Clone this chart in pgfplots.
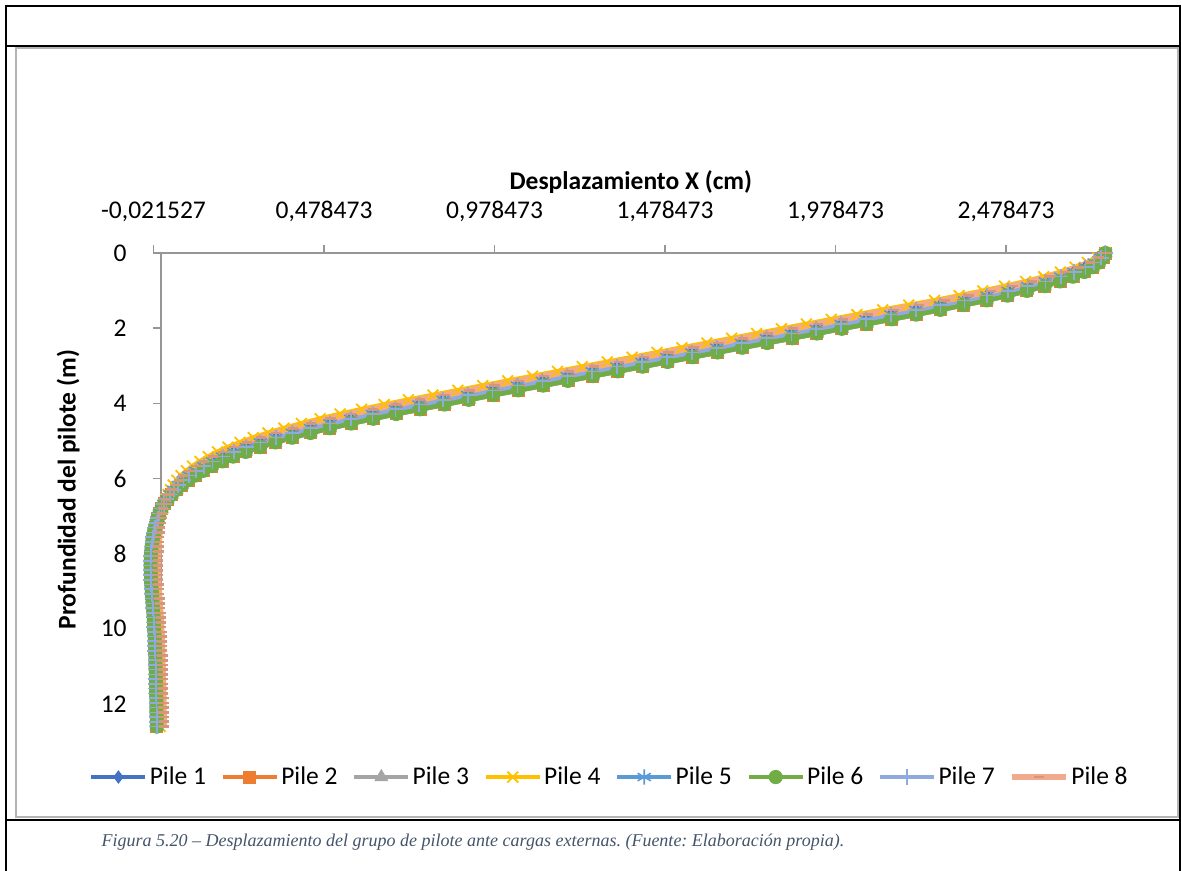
\documentclass[border=0pt]{standalone}
\usepackage{pgfplots}
\pgfplotsset{compat=1.18}
\usepackage{pgfplotstable}
\usepackage{fontspec}
\setmainfont{Carlito}
\newfontfamily\capfont{Liberation Serif}

\definecolor{pileA}{HTML}{4472C4}
\definecolor{pileB}{HTML}{ED7D31}
\definecolor{pileC}{HTML}{A5A5A5}
\definecolor{pileD}{HTML}{FFC000}
\definecolor{pileE}{HTML}{5B9BD5}
\definecolor{pileF}{HTML}{70AD47}
\definecolor{pileG}{HTML}{8FAADC}
\definecolor{pileH}{HTML}{F2AA8C}
\definecolor{axisgray}{HTML}{969696}
\definecolor{framegray}{HTML}{B4B4B4}
\definecolor{capcolor}{HTML}{44546A}

% depth y (m); lateral displacement (cm) of the pile groups
% b: piles 1, 5, 7, u8: pile 8, u4: pile 4, l: piles 2, 3, 6
\pgfplotstableread{
y b u8 u4 l
0.000 2.770 2.770 2.770 2.770
0.126 2.757 2.751 2.748 2.764
0.252 2.737 2.724 2.717 2.751
0.378 2.711 2.691 2.681 2.733
0.504 2.678 2.651 2.638 2.708
0.630 2.639 2.606 2.589 2.675
0.756 2.594 2.555 2.536 2.637
0.882 2.542 2.497 2.474 2.592
1.008 2.485 2.435 2.410 2.540
1.134 2.423 2.368 2.341 2.483
1.260 2.357 2.298 2.269 2.422
1.386 2.286 2.224 2.193 2.354
1.512 2.214 2.149 2.117 2.286
1.638 2.141 2.074 2.041 2.215
1.764 2.068 2.000 1.966 2.143
1.890 1.995 1.927 1.893 2.070
2.016 1.922 1.854 1.820 1.997
2.142 1.849 1.781 1.747 1.924
2.268 1.776 1.708 1.674 1.851
2.394 1.703 1.635 1.601 1.778
2.520 1.630 1.562 1.528 1.705
2.646 1.557 1.489 1.455 1.632
2.772 1.484 1.416 1.382 1.559
2.898 1.411 1.343 1.309 1.486
3.024 1.338 1.270 1.236 1.413
3.150 1.265 1.197 1.163 1.340
3.276 1.192 1.124 1.090 1.267
3.402 1.119 1.051 1.017 1.194
3.528 1.046 0.978 0.944 1.121
3.654 0.973 0.905 0.871 1.048
3.780 0.900 0.832 0.798 0.975
3.906 0.828 0.760 0.726 0.903
4.032 0.757 0.689 0.655 0.832
4.158 0.688 0.622 0.589 0.761
4.284 0.621 0.558 0.526 0.690
4.410 0.557 0.497 0.467 0.623
4.536 0.496 0.440 0.412 0.558
4.662 0.439 0.387 0.361 0.496
4.788 0.386 0.338 0.314 0.439
4.914 0.337 0.293 0.271 0.385
5.040 0.292 0.252 0.232 0.336
5.166 0.251 0.215 0.197 0.291
5.292 0.214 0.182 0.166 0.249
5.418 0.181 0.153 0.139 0.212
5.544 0.152 0.127 0.115 0.180
5.670 0.126 0.104 0.093 0.150
5.796 0.103 0.084 0.075 0.124
5.922 0.083 0.067 0.059 0.101
6.048 0.066 0.053 0.047 0.080
6.174 0.051 0.041 0.036 0.062
6.300 0.038 0.031 0.028 0.046
6.426 0.027 0.023 0.021 0.032
6.552 0.017 0.016 0.015 0.020
6.678 0.009 0.011 0.010 0.010
6.804 0.002 0.007 0.005 0.002
6.930 -0.004 0.004 0.000 -0.004
7.056 -0.009 0.002 -0.003 -0.009
7.182 -0.013 0.000 -0.006 -0.013
7.308 -0.017 -0.002 -0.009 -0.017
7.434 -0.020 -0.003 -0.011 -0.020
7.560 -0.023 -0.005 -0.013 -0.023
7.686 -0.025 -0.006 -0.015 -0.025
7.812 -0.027 -0.007 -0.017 -0.027
7.938 -0.028 -0.007 -0.018 -0.028
8.064 -0.029 -0.008 -0.019 -0.029
8.190 -0.030 -0.009 -0.020 -0.030
8.316 -0.030 -0.009 -0.020 -0.030
8.442 -0.030 -0.009 -0.020 -0.030
8.568 -0.029 -0.008 -0.019 -0.029
8.694 -0.029 -0.008 -0.019 -0.029
8.820 -0.028 -0.007 -0.018 -0.028
8.946 -0.027 -0.006 -0.017 -0.027
9.072 -0.026 -0.005 -0.016 -0.026
9.198 -0.025 -0.004 -0.015 -0.025
9.324 -0.024 -0.003 -0.014 -0.024
9.450 -0.023 -0.002 -0.013 -0.023
9.576 -0.022 -0.001 -0.012 -0.022
9.702 -0.021 0.000 -0.011 -0.021
9.828 -0.020 0.001 -0.010 -0.020
9.954 -0.020 0.001 -0.010 -0.020
10.080 -0.019 0.002 -0.009 -0.019
10.206 -0.018 0.003 -0.008 -0.018
10.332 -0.018 0.003 -0.008 -0.018
10.458 -0.017 0.004 -0.007 -0.017
10.584 -0.017 0.004 -0.007 -0.017
10.710 -0.016 0.005 -0.006 -0.016
10.836 -0.016 0.005 -0.006 -0.016
10.962 -0.016 0.005 -0.006 -0.016
11.088 -0.015 0.006 -0.005 -0.015
11.214 -0.015 0.006 -0.005 -0.015
11.340 -0.015 0.006 -0.005 -0.015
11.466 -0.014 0.007 -0.004 -0.014
11.592 -0.014 0.007 -0.004 -0.014
11.718 -0.014 0.007 -0.004 -0.014
11.844 -0.013 0.008 -0.003 -0.013
11.970 -0.013 0.008 -0.003 -0.013
12.096 -0.013 0.008 -0.003 -0.013
12.222 -0.013 0.008 -0.003 -0.013
12.348 -0.012 0.009 -0.002 -0.012
12.474 -0.012 0.009 -0.002 -0.012
12.600 -0.012 0.009 -0.002 -0.012
}\piles

\newcommand{\chartfont}{\fontsize{12.75}{15}\selectfont}
\newcommand{\entry}[1]{\hspace*{1pt}#1\hspace*{7.2pt}\mbox{}}

\begin{document}
\frenchspacing
\begin{tikzpicture}
\path[use as bounding box] (0pt,0pt) rectangle (590.5pt,-435.5pt);

% table cell borders and chart area
\draw[framegray, line width=0.7pt] (8pt,-24pt) rectangle (589pt,-408.5pt);
\draw[black, line width=1.25pt] (2.5pt,-3pt) -- (590.5pt,-3pt);
\draw[black, line width=1.25pt] (2.5pt,-23pt) -- (590.5pt,-23pt);
\draw[black, line width=1.25pt] (2.5pt,-410pt) -- (590.5pt,-410pt);
\draw[black, line width=1.25pt] (3pt,-2.5pt) -- (3pt,-435.5pt);
\draw[black, line width=1.25pt] (590pt,-2.5pt) -- (590pt,-435.5pt);

\begin{axis}[
  at={(76.75pt,-126.5pt)}, anchor=north west,
  scale only axis, width=477.4pt, height=236.75pt,
  xmin=-0.021527, xmax=2.778473, ymin=0, ymax=12.6,
  y dir=reverse,
  clip=false,
  axis line style={draw=none},
  xtick={-0.021527,0.478473,0.978473,1.478473,1.978473,2.478473},
  xticklabels={{-0,021527},{0,478473},{0,978473},{1,478473},{1,978473},{2,478473}},
  ytick={0,2,4,6,8,10,12},
  yticklabels={0,2,4,6,8,10,12},
  xtick pos=right, xticklabel pos=right, ytick pos=left,
  tick align=outside,
  major tick length=4pt,
  tick style={axisgray, line width=0.7pt},
  y tick style={xshift=3.65pt},
  tick label style={font=\chartfont, text=black},
  xticklabel style={anchor=base, inner sep=0pt, yshift=13.2pt},
  yticklabel style={anchor=east, inner sep=0pt, xshift=-9.25pt},
  label style={font=\bfseries\chartfont},
  xlabel={Desplazamiento X (cm)},
  ylabel={Profundidad del pilote (m)},
  xlabel style={at={(axis description cs:0.5,1.15)}, anchor=center},
  ylabel style={at={(axis description cs:-0.0895,0.5)}, anchor=center},
  legend columns=8,
  legend style={at={(axis description cs:0.4839,-0.1067)}, anchor=center,
    draw=none, fill=none, font=\chartfont,
    nodes={inner sep=0pt}, /tikz/column sep=0pt},
  legend cell align=left,
  legend image code/.code={
    \draw[mark repeat=2, mark phase=2] plot coordinates {(0pt,0pt) (13.5pt,0pt) (27pt,0pt)};
  },
  every axis plot/.append style={line width=2.4pt},
]
% axis lines: horizontal at depth 0, vertical at zero displacement
\draw[axisgray, line width=0.75pt] (axis cs:-0.021527,0) -- (axis cs:2.778473,0);
\draw[axisgray, line width=0.75pt] (axis cs:0,0) -- (axis cs:0,12.6);

\addplot[pileA, mark=diamond*, mark size=3pt, mark options={solid, line width=0.5pt, fill=pileA}] table[x=b, y=y] {\piles};
\addlegendentry{\entry{Pile 1}}
\addplot[pileB, mark=square*, mark size=3pt, mark options={solid, line width=0.5pt, fill=pileB}] table[x=l, y=y] {\piles};
\addlegendentry{\entry{Pile 2}}
\addplot[pileC, mark=triangle*, mark size=3.6pt, mark options={solid, line width=0.5pt, fill=pileC}] table[x=l, y=y] {\piles};
\addlegendentry{\entry{Pile 3}}
\addplot[pileD, mark=x, mark size=3.8pt, mark options={solid, line width=0.9pt}] table[x=u4, y=y] {\piles};
\addlegendentry{\entry{Pile 4}}
\addplot[pileE, mark=asterisk, mark size=3.8pt, mark options={solid, line width=0.8pt}] table[x=b, y=y] {\piles};
\addlegendentry{\entry{Pile 5}}
\addplot[pileF, mark=*, mark size=3.3pt, mark options={solid, line width=0.5pt, fill=pileF}] table[x=l, y=y] {\piles};
\addlegendentry{\entry{Pile 6}}
\addplot[pileG, mark=+, mark size=3.8pt, mark options={solid, line width=0.8pt}] table[x=b, y=y] {\piles};
\addlegendentry{\entry{Pile 7}}
\addplot[pileH, line width=3.1pt, mark=-, mark size=2.6pt, mark options={solid, line width=1.3pt, draw=pileH!88!black}] table[x=u8, y=y] {\piles};
\addlegendentry{\entry{Pile 8}}
\end{axis}

\node[anchor=center, text=capcolor, font=\capfont\itshape\fontsize{9}{11}\selectfont] at (236.5pt,-421pt)
  {Figura 5.20 – Desplazamiento del grupo de pilote ante cargas externas. (Fuente: Elaboración propia).};
\end{tikzpicture}
\end{document}
